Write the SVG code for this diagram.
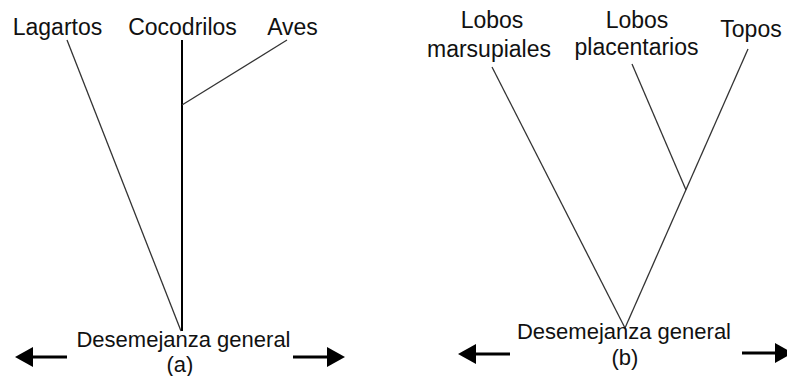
<svg xmlns="http://www.w3.org/2000/svg" width="787" height="376" viewBox="0 0 787 376">
<style>
text{font-family:"Liberation Sans",Arial,sans-serif;fill:#111;text-anchor:middle}
.lbl{font-size:23px}
.axis{font-size:22px}
.br{stroke:#333;stroke-width:1.3;fill:none}
.stem{stroke:#000;stroke-width:2;fill:none}
.arr{stroke:#000;stroke-width:3;marker-end:url(#ah)}
</style>
<defs>
<marker id="ah" viewBox="0 -10 18 20" refX="0" refY="0" markerWidth="18" markerHeight="20" markerUnits="userSpaceOnUse" orient="auto">
<path d="M0,-10 L18,0 L0,10 z" fill="#000"/>
</marker>
</defs>
<rect width="787" height="376" fill="#fff"/>
<g id="connectors">
<line class="br" x1="67" y1="40" x2="181" y2="331"/>
<line class="stem" x1="182" y1="40" x2="182" y2="331"/>
<line class="br" x1="287" y1="40" x2="182" y2="105"/>
<line class="br" x1="492" y1="67" x2="625" y2="328"/>
<line class="br" x1="632" y1="64" x2="686" y2="190"/>
<line class="br" x1="748" y1="49" x2="625" y2="328"/>
</g>
<g id="node-lagartos"><text class="lbl" x="57.5" y="34.5">Lagartos</text></g>
<g id="node-cocodrilos"><text class="lbl" x="182.5" y="34.5">Cocodrilos</text></g>
<g id="node-aves"><text class="lbl" x="292.5" y="34.5">Aves</text></g>
<g id="node-lobos-marsupiales"><text class="lbl" x="492" y="28">Lobos</text><text class="lbl" x="489" y="57">marsupiales</text></g>
<g id="node-lobos-placentarios"><text class="lbl" x="637" y="28">Lobos</text><text class="lbl" x="636.5" y="55">placentarios</text></g>
<g id="node-topos"><text class="lbl" x="751" y="37">Topos</text></g>
<g id="axis-a">
<line class="arr" x1="67" y1="357" x2="33" y2="357"/>
<line class="arr" x1="293" y1="357" x2="327" y2="357"/>
<text class="axis"><tspan x="183.5" y="347">Desemejanza general</tspan><tspan x="180" y="372">(a)</tspan></text>
</g>
<g id="axis-b">
<line class="arr" x1="510" y1="354" x2="476" y2="354"/>
<line class="arr" x1="742" y1="353" x2="775" y2="353"/>
<text class="axis"><tspan x="624" y="339">Desemejanza general</tspan><tspan x="625" y="365">(b)</tspan></text>
</g>
</svg>
